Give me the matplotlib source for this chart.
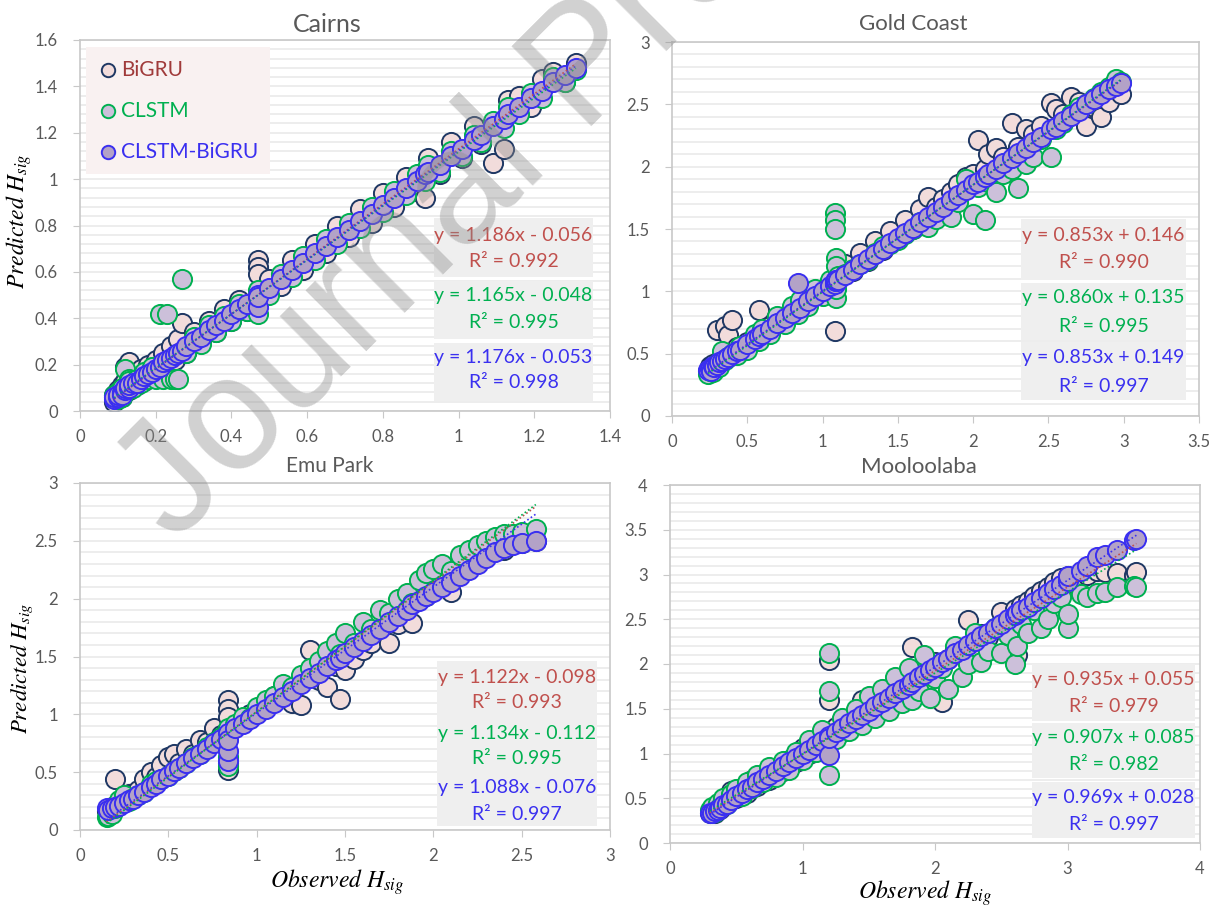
import matplotlib
matplotlib.use("Agg")
import matplotlib.pyplot as plt
from matplotlib.patches import Rectangle
from matplotlib.ticker import MultipleLocator, FuncFormatter
import numpy as np

plt.rcParams['font.family'] = ['Lato', 'DejaVu Sans']
plt.rcParams['mathtext.fontset'] = 'stix'

# ---------------- data ----------------
models = ["BiGRU", "CLSTM", "CLSTM-BiGRU"]

cairns_obs = [0.09, 0.09, 0.10, 0.10, 0.11, 0.11, 0.12, 0.12, 0.13, 0.13, 0.14, 0.15, 0.16, 0.17, 0.18, 0.19,
              0.20, 0.21, 0.22, 0.23, 0.24, 0.25, 0.26, 0.27, 0.28, 0.30, 0.32, 0.34, 0.36, 0.38, 0.40, 0.42,
              0.44, 0.47, 0.47, 0.47, 0.50, 0.53, 0.56, 0.59, 0.62, 0.65, 0.68, 0.71, 0.74, 0.77, 0.80, 0.83,
              0.86, 0.89, 0.91, 0.92, 0.95, 0.98, 1.01, 1.04, 1.06, 1.09, 1.12, 1.13, 1.16, 1.19, 1.22, 1.25,
              1.28, 1.31]
cairns_bigru = [0.07, 0.04, 0.09, 0.06, 0.11, 0.06, 0.13, 0.19, 0.21, 0.09, 0.16, 0.11, 0.18, 0.13, 0.20, 0.15,
                0.22, 0.17, 0.25, 0.20, 0.28, 0.22, 0.31, 0.38, 0.25, 0.34, 0.30, 0.39, 0.34, 0.44, 0.39, 0.48,
                0.43, 0.65, 0.62, 0.59, 0.57, 0.54, 0.65, 0.61, 0.72, 0.68, 0.80, 0.75, 0.87, 0.81, 0.94, 0.88,
                1.01, 0.95, 0.92, 1.09, 1.02, 1.16, 1.09, 1.23, 1.15, 1.07, 1.13, 1.34, 1.36, 1.31, 1.43, 1.46,
                1.42, 1.50]
cairns_clstm = [0.06, 0.07, 0.05, 0.08, 0.06, 0.10, 0.18, 0.08, 0.14, 0.13, 0.10, 0.14, 0.12, 0.17, 0.14, 0.19,
                0.14, 0.42, 0.14, 0.42, 0.14, 0.14, 0.14, 0.57, 0.25, 0.32, 0.29, 0.37, 0.34, 0.41, 0.39, 0.46,
                0.43, 0.42, 0.52, 0.46, 0.50, 0.59, 0.58, 0.67, 0.65, 0.74, 0.72, 0.81, 0.79, 0.88, 0.86, 0.95,
                0.93, 1.02, 0.99, 1.06, 1.03, 1.12, 1.10, 1.19, 1.16, 1.25, 1.22, 1.31, 1.28, 1.37, 1.35, 1.44,
                1.42, 1.47]
cairns_hybrid = [0.05, 0.06, 0.06, 0.07, 0.08, 0.07, 0.09, 0.10, 0.10, 0.11, 0.12, 0.12, 0.14, 0.15, 0.16, 0.17,
                 0.18, 0.19, 0.21, 0.22, 0.23, 0.24, 0.25, 0.26, 0.28, 0.30, 0.32, 0.35, 0.37, 0.39, 0.42, 0.44,
                 0.46, 0.45, 0.50, 0.49, 0.53, 0.57, 0.61, 0.64, 0.68, 0.71, 0.75, 0.78, 0.82, 0.85, 0.89, 0.92,
                 0.96, 0.99, 1.02, 1.03, 1.06, 1.10, 1.13, 1.17, 1.19, 1.23, 1.26, 1.28, 1.31, 1.35, 1.38, 1.42,
                 1.45, 1.48]

gold_obs = [0.24, 0.25, 0.26, 0.27, 0.28, 0.30, 0.31, 0.33, 0.35, 0.37, 0.40, 0.43, 0.45, 0.50, 0.55, 0.58,
            0.60, 0.65, 0.70, 0.75, 0.80, 0.84, 0.85, 0.90, 0.95, 1.00, 1.05, 1.08, 1.08, 1.08, 1.09, 1.09,
            1.09, 1.09, 1.10, 1.15, 1.20, 1.25, 1.30, 1.35, 1.40, 1.45, 1.50, 1.55, 1.60, 1.65, 1.70, 1.75,
            1.80, 1.85, 1.90, 1.95, 2.00, 2.03, 2.08, 2.10, 2.15, 2.20, 2.26, 2.30, 2.35, 2.40, 2.45, 2.52,
            2.55, 2.60, 2.65, 2.70, 2.75, 2.80, 2.85, 2.90, 2.95, 2.98]
gold_bigru = [0.36, 0.40, 0.37, 0.42, 0.39, 0.69, 0.44, 0.46, 0.72, 0.65, 0.77, 0.55, 0.54, 0.59, 0.62, 0.85,
              0.67, 0.72, 0.76, 0.80, 0.85, 0.88, 0.86, 0.93, 0.97, 1.02, 1.07, 0.68, 1.10, 1.09, 1.11, 1.12,
              1.08, 1.10, 1.12, 1.22, 1.16, 1.31, 1.24, 1.40, 1.33, 1.48, 1.42, 1.57, 1.50, 1.66, 1.76, 1.68,
              1.74, 1.80, 1.86, 1.92, 1.94, 2.21, 1.98, 2.10, 2.15, 2.08, 2.35, 2.16, 2.30, 2.26, 2.33, 2.51,
              2.46, 2.42, 2.56, 2.52, 2.33, 2.48, 2.40, 2.52, 2.63, 2.58]
gold_clstm = [0.34, 0.36, 0.38, 0.35, 0.40, 0.42, 0.39, 0.52, 0.45, 0.47, 0.50, 0.49, 0.56, 0.53, 0.66, 0.60,
              0.70, 0.66, 0.80, 0.74, 0.88, 0.82, 0.93, 0.88, 1.02, 0.96, 1.09, 1.63, 1.57, 1.50, 1.27, 1.20,
              0.95, 1.02, 1.12, 1.14, 1.18, 1.22, 1.25, 1.31, 1.36, 1.38, 1.41, 1.46, 1.50, 1.56, 1.52, 1.58,
              1.66, 1.60, 1.72, 1.90, 1.62, 1.84, 1.57, 1.88, 1.80, 1.94, 1.98, 1.83, 2.02, 2.08, 2.22, 2.08,
              2.30, 2.35, 2.42, 2.48, 2.50, 2.55, 2.60, 2.64, 2.70, 2.68]
gold_hybrid = [0.37, 0.38, 0.36, 0.40, 0.39, 0.41, 0.43, 0.44, 0.46, 0.47, 0.50, 0.52, 0.53, 0.58, 0.62, 0.64,
               0.66, 0.70, 0.75, 0.79, 0.83, 1.07, 0.87, 0.92, 0.96, 1.00, 1.04, 1.07, 1.08, 1.06, 1.08, 1.09,
               1.08, 1.09, 1.09, 1.13, 1.17, 1.22, 1.26, 1.30, 1.34, 1.39, 1.43, 1.47, 1.51, 1.56, 1.60, 1.64,
               1.68, 1.73, 1.77, 1.81, 1.86, 1.88, 1.92, 1.94, 1.98, 2.03, 2.07, 2.11, 2.15, 2.20, 2.24, 2.30,
               2.32, 2.37, 2.41, 2.45, 2.50, 2.54, 2.58, 2.62, 2.65, 2.67]

emu_obs = [0.15, 0.16, 0.18, 0.20, 0.22, 0.25, 0.28, 0.30, 0.33, 0.36, 0.40, 0.43, 0.46, 0.50, 0.53, 0.56,
           0.60, 0.64, 0.68, 0.72, 0.76, 0.80, 0.84, 0.84, 0.84, 0.84, 0.88, 0.92, 0.96, 1.00, 1.05, 1.10,
           1.15, 1.20, 1.25, 1.30, 1.35, 1.40, 1.45, 1.47, 1.50, 1.55, 1.60, 1.65, 1.70, 1.75, 1.80, 1.85,
           1.88, 1.92, 1.96, 2.00, 2.05, 2.10, 2.15, 2.20, 2.25, 2.30, 2.35, 2.40, 2.45, 2.50, 2.58]
emu_bigru = [0.16, 0.18, 0.20, 0.44, 0.23, 0.27, 0.31, 0.28, 0.35, 0.44, 0.50, 0.46, 0.56, 0.63, 0.66, 0.58,
             0.70, 0.66, 0.78, 0.76, 0.88, 0.82, 1.12, 1.05, 0.52, 0.98, 0.90, 0.94, 1.00, 1.02, 1.10, 1.16,
             1.20, 1.10, 1.08, 1.56, 1.30, 1.24, 1.42, 1.13, 1.38, 1.48, 1.56, 1.62, 1.82, 1.62, 1.78, 1.98,
             1.79, 2.10, 2.02, 2.20, 2.18, 2.06, 2.28, 2.34, 2.40, 2.38, 2.44, 2.42, 2.48, 2.48, 2.50]
emu_clstm = [0.11, 0.12, 0.14, 0.19, 0.26, 0.30, 0.25, 0.28, 0.30, 0.33, 0.40, 0.42, 0.44, 0.47, 0.51, 0.54,
             0.58, 0.63, 0.66, 0.72, 0.76, 0.80, 0.58, 0.63, 0.55, 0.88, 0.92, 0.98, 0.97, 1.06, 1.12, 1.16,
             1.26, 1.24, 1.34, 1.40, 1.46, 1.55, 1.62, 1.52, 1.70, 1.62, 1.80, 1.74, 1.90, 1.88, 2.00, 2.05,
             1.96, 2.16, 2.22, 2.26, 2.30, 2.24, 2.38, 2.42, 2.46, 2.50, 2.53, 2.56, 2.56, 2.58, 2.60]
emu_hybrid = [0.19, 0.17, 0.19, 0.20, 0.21, 0.23, 0.26, 0.27, 0.30, 0.33, 0.37, 0.40, 0.44, 0.47, 0.51, 0.54,
              0.58, 0.62, 0.66, 0.70, 0.75, 0.79, 0.84, 0.60, 0.68, 0.78, 0.88, 0.92, 0.96, 1.00, 1.05, 1.10,
              1.15, 1.20, 1.26, 1.31, 1.36, 1.42, 1.47, 1.49, 1.53, 1.58, 1.63, 1.69, 1.74, 1.80, 1.85, 1.90,
              1.95, 1.98, 2.02, 2.06, 2.10, 2.14, 2.20, 2.25, 2.30, 2.35, 2.40, 2.44, 2.46, 2.48, 2.50]

mool_obs = [0.30, 0.32, 0.34, 0.36, 0.38, 0.40, 0.43, 0.46, 0.50, 0.54, 0.58, 0.62, 0.66, 0.70, 0.75, 0.80,
            0.85, 0.90, 0.95, 1.00, 1.05, 1.10, 1.15, 1.20, 1.20, 1.20, 1.25, 1.30, 1.35, 1.40, 1.45, 1.50,
            1.55, 1.60, 1.65, 1.70, 1.75, 1.80, 1.83, 1.88, 1.92, 1.96, 2.00, 2.05, 2.10, 2.15, 2.20, 2.25,
            2.30, 2.35, 2.40, 2.45, 2.50, 2.55, 2.60, 2.62, 2.65, 2.70, 2.75, 2.80, 2.85, 2.90, 2.95, 3.00,
            3.00, 3.10, 3.15, 3.22, 3.28, 3.37, 3.50, 3.52]
mool_bigru = [0.33, 0.36, 0.34, 0.40, 0.38, 0.44, 0.46, 0.58, 0.50, 0.60, 0.56, 0.70, 0.64, 0.74, 0.70, 0.84,
              0.80, 0.93, 0.90, 1.06, 1.00, 1.14, 1.10, 2.04, 1.60, 1.18, 1.30, 1.24, 1.36, 1.34, 1.60, 1.46,
              1.58, 1.52, 1.72, 1.66, 1.84, 1.76, 2.19, 1.86, 1.92, 1.82, 2.02, 1.58, 2.06, 2.18, 2.14, 2.49,
              2.20, 2.34, 2.30, 2.40, 2.58, 2.44, 2.62, 2.10, 2.66, 2.70, 2.76, 2.82, 2.86, 2.92, 2.96, 2.98,
              2.90, 2.96, 3.00, 3.04, 3.03, 3.02, 3.00, 3.03]
mool_clstm = [0.37, 0.40, 0.35, 0.45, 0.40, 0.50, 0.44, 0.55, 0.60, 0.52, 0.68, 0.62, 0.76, 0.68, 0.85, 0.74,
              0.92, 0.82, 1.02, 0.93, 1.15, 1.02, 1.26, 2.12, 1.70, 0.76, 1.16, 1.40, 1.25, 1.50, 1.32, 1.64,
              1.40, 1.72, 1.48, 1.85, 1.56, 1.95, 1.60, 1.70, 2.10, 1.62, 1.84, 1.95, 1.72, 2.20, 1.86, 2.00,
              2.35, 2.02, 2.15, 2.40, 2.12, 2.32, 2.00, 2.20, 2.45, 2.35, 2.60, 2.40, 2.50, 2.68, 2.75, 2.40,
              2.56, 2.78, 2.75, 2.79, 2.80, 2.86, 2.87, 2.86]
mool_hybrid = [0.33, 0.34, 0.36, 0.37, 0.39, 0.42, 0.44, 0.48, 0.52, 0.56, 0.60, 0.63, 0.68, 0.71, 0.76, 0.80,
               0.86, 0.90, 0.95, 1.00, 1.04, 1.10, 1.14, 1.20, 0.98, 1.17, 1.24, 1.29, 1.34, 1.38, 1.43, 1.48,
               1.53, 1.58, 1.62, 1.68, 1.72, 1.77, 1.80, 1.85, 1.89, 1.93, 1.97, 2.02, 2.06, 2.12, 2.16, 2.21,
               2.26, 2.31, 2.35, 2.40, 2.45, 2.50, 2.55, 2.57, 2.60, 2.64, 2.69, 2.74, 2.79, 2.84, 2.88, 2.93,
               2.98, 3.04, 3.10, 3.20, 3.22, 3.27, 3.39, 3.40]

# trendline coefficients (slope, intercept) and R^2 per model, as printed
cairns_fit = [(1.186, -0.056, 0.992), (1.165, -0.048, 0.995), (1.176, -0.053, 0.998)]
gold_fit = [(0.853, 0.146, 0.990), (0.860, 0.135, 0.995), (0.853, 0.149, 0.997)]
emu_fit = [(1.122, -0.098, 0.993), (1.134, -0.112, 0.995), (1.088, -0.076, 0.997)]
mool_fit = [(0.935, 0.055, 0.979), (0.907, 0.085, 0.982), (0.969, 0.028, 0.997)]

# ---------------- styling ----------------
W, H = 1214, 907
fig = plt.figure(figsize=(W / 100, H / 100), dpi=100)

face = ['#f2dcdb', '#ccc0da', '#b3a2c7']
edge = ['#1f3864', '#00b050', '#3a2ff0']
tcol = ['#c0504d', '#00b050', '#3a30f0']
legcol = ['#a03a3a', '#00b050', '#3a2ff0']
grey = '#595959'


def fbox(x0, y0, x1, y1):
    return [x0 / W, 1 - y1 / H, (x1 - x0) / W, (y1 - y0) / H]


def fx(x):
    return x / W


def fy(y):
    return 1 - y / H


panels = [
    dict(title="Cairns", tpos=(327, 24), tsize=18, box=(80, 40, 610, 411), xlim=1.4, ylim=1.6, xs=0.2, ys=0.2,
         obs=cairns_obs, preds=[cairns_bigru, cairns_clstm, cairns_hybrid], fit=cairns_fit,
         eq=dict(x0=434, x1=593, boxes=[(218, 277), (281, 339), (343, 401)], lines=[(236, 262), (296, 322), (357, 383)])),
    dict(title="Gold Coast", tpos=(913, 24), tsize=16, box=(672, 42, 1199, 416), xlim=3.5, ylim=3.0, xs=0.5, ys=0.5,
         obs=gold_obs, preds=[gold_bigru, gold_clstm, gold_hybrid], fit=gold_fit,
         eq=dict(x0=1021, x1=1186, boxes=[(219, 280), (283, 340), (342, 400)], lines=[(236, 263), (298, 326), (358, 386)])),
    dict(title="Emu Park", tpos=(330, 466), tsize=15, box=(80, 483, 610, 830), xlim=3.0, ylim=3.0, xs=0.5, ys=0.5,
         obs=emu_obs, preds=[emu_bigru, emu_clstm, emu_hybrid], fit=emu_fit,
         eq=dict(x0=437, x1=597, boxes=[(661, 826)], lines=[(677, 703), (733, 759), (788, 814)])),
    dict(title="Mooloolaba", tpos=(919, 467), tsize=16, box=(670, 485, 1200, 843), xlim=4.0, ylim=4.0, xs=1.0, ys=0.5,
         obs=mool_obs, preds=[mool_bigru, mool_clstm, mool_hybrid], fit=mool_fit,
         eq=dict(x0=1032, x1=1195, boxes=[(664, 721), (723, 778), (782, 838)], lines=[(680, 706), (738, 764), (798, 824)])),
]

fmt = FuncFormatter(lambda v, p: f"{v:g}")
handles = []
for i, p in enumerate(panels):
    ax = fig.add_axes(fbox(*p['box']))
    ax.set_xlim(0, p['xlim'])
    ax.set_ylim(0, p['ylim'])
    ax.xaxis.set_major_locator(MultipleLocator(p['xs']))
    ax.yaxis.set_major_locator(MultipleLocator(p['ys']))
    ax.yaxis.set_minor_locator(MultipleLocator(p['ys'] / 5))
    ax.xaxis.set_major_formatter(fmt)
    ax.yaxis.set_major_formatter(fmt)
    ax.set_axisbelow(True)
    ax.grid(axis='y', which='both', color='#ececec', linewidth=1.3)
    ax.tick_params(which='major', length=5, color='#c8c8c8', labelcolor=grey, labelsize=12)
    ax.tick_params(axis='y', pad=11)
    ax.tick_params(axis='x', pad=8)
    ax.tick_params(which='minor', length=0)
    for s in ax.spines.values():
        s.set_color('#c8c8c8')
        s.set_linewidth(1.2)

    obs = np.array(p['obs'])
    for k in range(3):
        h = ax.scatter(obs, p['preds'][k], s=190, facecolor=face[k], edgecolor=edge[k], linewidth=1.4,
                       zorder=2 + k, label=models[k])
        if i == 0:
            handles.append(h)
    xx = np.array([obs.min(), obs.max()])
    for k in range(3):
        a, b, _ = p['fit'][k]
        ax.plot(xx, a * xx + b, ls=(0, (1, 1.5)), color=tcol[k], lw=1.2, zorder=6)

    fig.text(fx(p['tpos'][0]), fy(p['tpos'][1]), p['title'], ha='center', va='center',
             fontsize=p['tsize'], color=grey)

    # equation boxes
    e = p['eq']
    for (y0, y1) in e['boxes']:
        fig.patches.append(Rectangle((fx(e['x0']), fy(y1)), fx(e['x1']) - fx(e['x0']), fy(y0) - fy(y1),
                                     transform=fig.transFigure, facecolor='#efefef', edgecolor='none', zorder=1))
    cx = (e['x0'] + e['x1']) / 2
    for k in range(3):
        a, b, r2 = p['fit'][k]
        sign = '+' if b >= 0 else '-'
        fig.text(fx(cx), fy(e['lines'][k][0]), f"y = {a:.3f}x {sign} {abs(b):.3f}", ha='center', va='center',
                 fontsize=14, color=tcol[k], zorder=3)
        fig.text(fx(cx), fy(e['lines'][k][1]), f"R² = {r2:.3f}", ha='center', va='center',
                 fontsize=14, color=tcol[k], zorder=3)

    if i == 0:
        leg = ax.legend(handles=handles, loc='upper left', bbox_to_anchor=(0.012, 0.98), fontsize=15,
                        markerscale=0.7, labelcolor=legcol, frameon=True, fancybox=False,
                        facecolor='#f9f1f1', edgecolor='none', framealpha=1, borderpad=0.6,
                        labelspacing=1.0, handletextpad=0.15, handlelength=0.9, borderaxespad=0)
        leg.set_zorder(10)

ylab = r'$Predicted\ H_{sig}$'
xlab = r'$Observed\ H_{sig}$'
fig.text(fx(19), fy(221), ylab, rotation=90, ha='center', va='center', fontsize=17, color='black')
fig.text(fx(22), fy(668), ylab, rotation=90, ha='center', va='center', fontsize=16.5, color='black')
fig.text(fx(337), fy(882), xlab, ha='center', va='center', fontsize=17, color='black')
fig.text(fx(925), fy(893), xlab, ha='center', va='center', fontsize=17, color='black')

# watermark
fig.text(fx(174), fy(544), "Journal Pre-proof", rotation=45, rotation_mode='anchor', ha='left', va='baseline',
         fontsize=117, color='#8c8c8c', alpha=0.4, family='Liberation Sans', zorder=20)

fig.savefig("out.png", dpi=100)
